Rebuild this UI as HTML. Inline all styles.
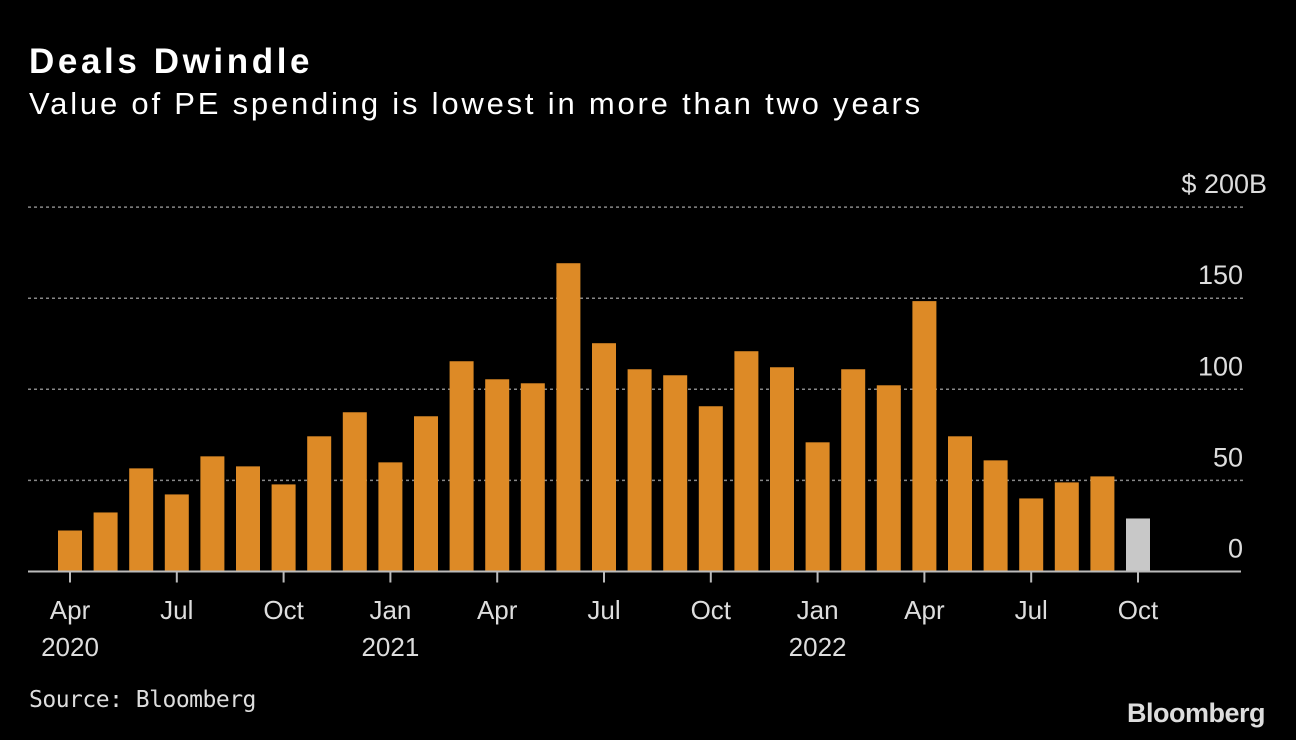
<!DOCTYPE html>
<html><head><meta charset="utf-8"><style>
body{margin:0;background:#000;width:1296px;height:740px;overflow:hidden;font-family:"Liberation Sans",sans-serif;color:#fff}
.t{position:absolute;left:29px;top:42px;font-size:35px;font-weight:bold;letter-spacing:3.6px}
.s{position:absolute;left:29px;top:86px;font-size:31px;color:#fff;letter-spacing:2.8px}
.src{position:absolute;left:29px;top:687px;font-size:23px;color:#ddd;font-family:"DejaVu Sans Mono","Liberation Mono",monospace;letter-spacing:-0.5px}
.logo{position:absolute;left:1127px;top:698px;font-size:27px;font-weight:bold;color:#ddd;letter-spacing:-0.5px}
svg{position:absolute;left:0;top:0}
</style></head><body>
<div class="t">Deals Dwindle</div>
<div class="s">Value of PE spending is lowest in more than two years</div>
<svg width="1296" height="740" id="chart"></svg>
<div class="src">Source: Bloomberg</div>
<div class="logo">Bloomberg</div>
<script>
const values=[22.5,32.4,56.6,42.3,63.2,57.7,47.8,74.2,87.4,59.9,85.2,115.4,105.5,103.3,169.2,125.3,111,107.7,90.7,120.9,112.1,70.9,111,102.2,148.4,74.2,61,40.1,48.9,52.2,29.1];
const yTicks=[0,50,100,150,200];
const yLabels=["0","50","100","150","$ 200B"];
const xTickIdx=[0,3,6,9,12,15,18,21,24,27,30];
const xLabels=["Apr","Jul","Oct","Jan","Apr","Jul","Oct","Jan","Apr","Jul","Oct"];
const yearIdx=[0,9,21];
const yearLabels=["2020","2021","2022"];
const svg=document.getElementById('chart');
const NS='http://www.w3.org/2000/svg';
const y0=571.5,ppu=1.822,x0=70,step=35.6,bw=24;
const y=v=>y0-v*ppu,x=i=>x0+i*step;
function mk(t,a){const e=document.createElementNS(NS,t);for(const k in a)e.setAttribute(k,a[k]);svg.appendChild(e);return e;}
yTicks.forEach((v,i)=>{
 if(v>0){const g=mk('line',{x1:28,x2:1243,y1:y(v),y2:y(v),stroke:'#888','stroke-width':1.5,'stroke-dasharray':'3,3'});
 }
 const t=mk('text',{x:i==4?1267:1243,y:y(v)-14,'text-anchor':'end','font-size':27,fill:'#ddd','font-family':'Liberation Sans, sans-serif'});
 t.textContent=yLabels[i];
 
});
values.forEach((v,i)=>{
 const r=mk('rect',{x:x(i)-bw/2,y:y(v),width:bw,height:y0-y(v),fill:i==values.length-1?'#c8c8c8':'#dd8a26'});
 
});
const ax=mk('line',{x1:28,x2:1241,y1:y0,y2:y0,stroke:'#bbb','stroke-width':2});

xTickIdx.forEach((d,k)=>{
 const tk=mk('line',{x1:x(d),x2:x(d),y1:y0,y2:y0+11,stroke:'#bbb','stroke-width':2});
 
 const t=mk('text',{x:x(d),y:619,'text-anchor':'middle','font-size':26,fill:'#ddd','font-family':'Liberation Sans, sans-serif'});
 t.textContent=xLabels[k];
 
});
yearIdx.forEach((d,k)=>{
 const t=mk('text',{x:x(d),y:656,'text-anchor':'middle','font-size':26,fill:'#ddd','font-family':'Liberation Sans, sans-serif'});
 t.textContent=yearLabels[k];
 
});
</script>
</body></html>
